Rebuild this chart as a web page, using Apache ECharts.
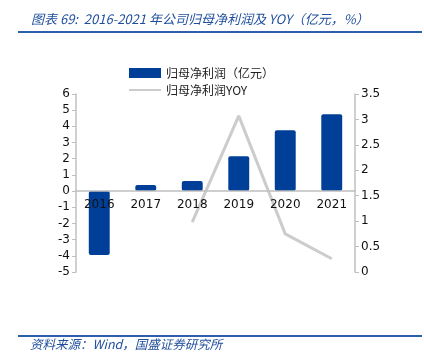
<!DOCTYPE html>
<html><head><meta charset="utf-8">
<script src="https://cdn.jsdelivr.net/npm/echarts@6/dist/echarts.min.js"></script>
<style>html,body{margin:0;padding:0;background:#fff}#c{width:424px;height:362px}</style>
</head><body><div id="c"></div>
<script>
const categories = ['2016','2017','2018','2019','2020','2021'];
const profit = [-3.95, 0.37, 0.62, 2.16, 3.76, 4.75];
const yoy = [null, null, 0.98, 3.07, 0.75, 0.26];
const leftTicks = {min: -5, max: 6, interval: 1};
const rightTicks = {min: 0, max: 3.5, interval: 0.5};
const chart = echarts.init(document.getElementById('c'));
const font = '"DejaVu Sans", sans-serif';
const blue = '#1f4e9c';
const gridTop = 94, gridBottom = 90, H = 362;
const plotH = H - gridTop - gridBottom;
const zeroOffset = -plotH * (0 - leftTicks.min) / (leftTicks.max - leftTicks.min);
chart.setOption({
  animation: false,
  title: {
    text: '图表 69:  2016-2021 年公司归母净利润及 YOY（亿元，%）',
    left: 26, top: 8,
    textStyle: {fontSize: 13, fontStyle: 'italic', fontWeight: 'normal', color: blue, fontFamily: '"Noto Sans CJK SC", sans-serif'}
  },
  graphic: [
    {type: 'rect', shape: {x: 18, y: 31, width: 404, height: 2}, style: {fill: '#2e5fae'}},
    {type: 'rect', shape: {x: 18, y: 335, width: 404, height: 2}, style: {fill: '#2e5fae'}},
    {type: 'text', left: 30, top: 338, style: {text: '资料来源：Wind，国盛证券研究所', fill: blue, font: 'italic 12.5px "Noto Sans CJK SC", sans-serif'}}
  ],
  legend: {
    orient: 'vertical', left: 124, top: 62, itemGap: 5,
    itemWidth: 32, itemHeight: 10,
    textStyle: {fontSize: 12, color: '#222', fontFamily: '"Noto Sans CJK SC", sans-serif'},
    data: [
      {name: '归母净利润（亿元）', icon: 'rect'},
      {name: '归母净利润YOY', icon: 'path://M0,4L32,4L32,6L0,6Z'}
    ]
  },
  grid: {left: 76, right: 69, top: gridTop, bottom: gridBottom},
  xAxis: {
    type: 'category', data: categories, position: 'bottom', offset: zeroOffset, z: 5,
    axisLine: {onZero: false, lineStyle: {color: '#bfbfbf', width: 1.5}},
    axisTick: {show: false},
    axisLabel: {fontSize: 12, color: '#111', fontFamily: font, margin: 8}
  },
  yAxis: [
    {type: 'value', min: leftTicks.min, max: leftTicks.max, interval: leftTicks.interval,
     axisLine: {show: true, lineStyle: {color: '#bfbfbf', width: 1.5}},
     axisTick: {show: true, length: 4, lineStyle: {color: '#bfbfbf'}},
     splitLine: {show: false},
     axisLabel: {fontSize: 12, color: '#111', fontFamily: font, margin: 6}},
    {type: 'value', min: rightTicks.min, max: rightTicks.max, interval: rightTicks.interval,
     axisLine: {show: true, lineStyle: {color: '#bfbfbf', width: 1.5}},
     axisTick: {show: true, length: 4, lineStyle: {color: '#bfbfbf'}},
     splitLine: {show: false},
     axisLabel: {fontSize: 12, color: '#111', fontFamily: font, margin: 6}}
  ],
  series: [
    {name: '归母净利润（亿元）', type: 'bar', data: profit, barWidth: '45%',
     itemStyle: {color: '#003f98', borderRadius: 2}},
    {name: '归母净利润YOY', type: 'line', yAxisIndex: 1, data: yoy,
     symbol: 'none', lineStyle: {color: '#cccccc', width: 3}, itemStyle: {color: '#cccccc'}}
  ]
});
</script></body></html>
